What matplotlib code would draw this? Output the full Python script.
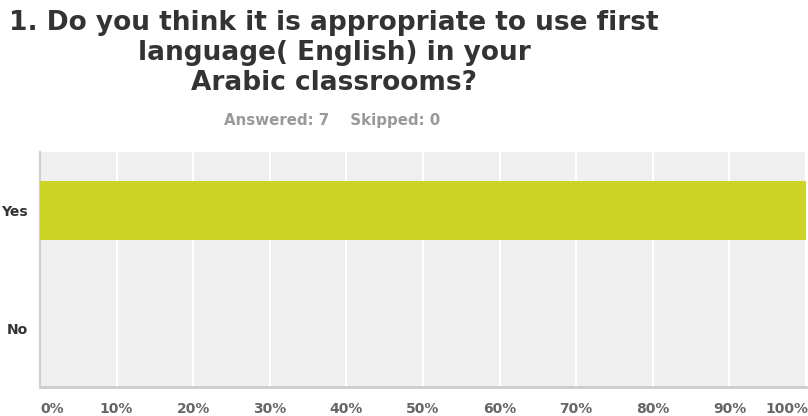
import matplotlib
matplotlib.use("Agg")
import matplotlib.pyplot as plt

plt.rcParams['font.family'] = ['DejaVu Sans']

# survey question results
choices = ["Yes", "No"]
percents = [100, 0]
tick_vals = [0, 10, 20, 30, 40, 50, 60, 70, 80, 90, 100]
tick_text = ["%d%%" % t for t in tick_vals]
answered = 7
skipped = 0

W, H = 808, 416
fig = plt.figure(figsize=(W / 100, H / 100), dpi=100)
fig.patch.set_facecolor("white")

ax = fig.add_axes([40 / W, 1 - 387 / H, 766 / W, 235 / H])
ax.set_facecolor("#efefef")

ypos = list(range(len(choices)))
ax.barh(ypos, percents, height=0.5, color="#cdd424", zorder=3)
ax.set_xlim(0, 100)
ax.set_ylim(len(choices) - 0.5, -0.5)

ax.set_xticks(tick_vals)
ax.set_xticklabels([])
ax.grid(axis="x", color="white", linewidth=1.5, zorder=1)
ax.set_axisbelow(True)
ax.tick_params(length=0)

ax.set_yticks(ypos)
ax.set_yticklabels(choices, fontsize=10, fontweight="bold", color="#333333")
ax.tick_params(axis="y", pad=9)

for s in ["top", "right"]:
    ax.spines[s].set_visible(False)
ax.spines["left"].set_color("#d0d0d0")
ax.spines["bottom"].set_color("#cccccc")
ax.spines["left"].set_linewidth(1.5)
ax.spines["bottom"].set_linewidth(2)

# x labels drawn by hand so the end ones stay inside the figure
for v, t in zip(tick_vals, tick_text):
    ha = "center"
    if v == tick_vals[0]:
        ha = "left"
    elif v == tick_vals[-1]:
        ha = "right"
    x_fig = (40 + 766 * v / 100) / W
    if v == tick_vals[-1]:
        x_fig = 1.0
    fig.text(x_fig, 1 - 409 / H, t, ha=ha, va="center",
             fontsize=10, fontweight="bold", color="#666666")

title_lines = ["1. Do you think it is appropriate to use first",
               "language( English) in your",
               "Arabic classrooms?"]
for i, line in enumerate(title_lines):
    fig.text(334 / W, 1 - (23 + 30 * i) / H, line, ha="center", va="center",
             fontsize=19, fontweight="bold", color="#333333")

fig.text(332 / W, 1 - 121 / H,
         "Answered: %d    Skipped: %d" % (answered, skipped),
         ha="center", va="center", fontsize=10.8, fontweight="bold",
         color="#999999")

fig.savefig("out.png", dpi=100)
